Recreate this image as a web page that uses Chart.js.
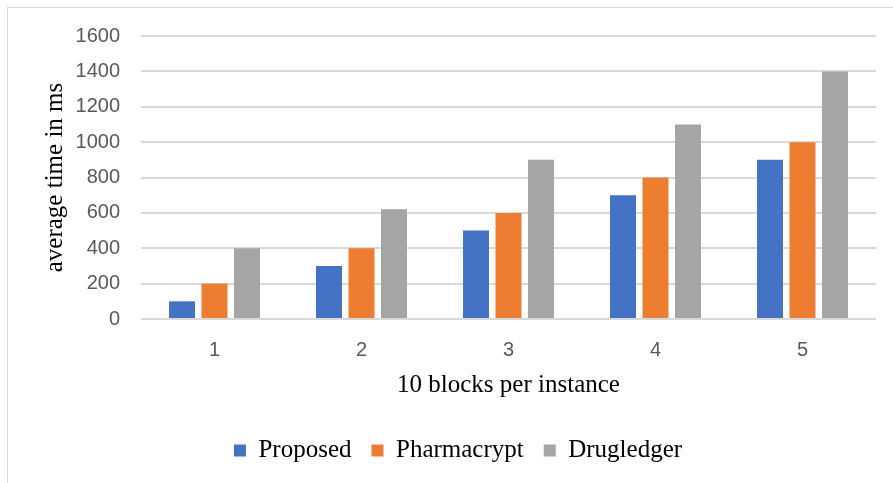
<!DOCTYPE html>
<html>
<head>
<meta charset="utf-8">
<script src="https://cdn.jsdelivr.net/npm/chart.js@4/dist/chart.umd.min.js"></script>
<style>
  html, body { margin: 0; padding: 0; background: #ffffff; overflow: hidden; }
  #wrap { position: relative; width: 893px; height: 483px; }
  #frame { position: absolute; left: 7px; top: 7px; width: 920px; height: 520px;
           border-left: 1px solid #d9d9d9; border-top: 1px solid #d9d9d9; pointer-events: none; }
  canvas { display: block; }
</style>
</head>
<body>
<div id="wrap">
  <canvas id="c" width="893" height="483"></canvas>
  <div id="frame"></div>
</div>
<script>
const categories = ['1', '2', '3', '4', '5'];
const seriesNames = ['Proposed', 'Pharmacrypt', 'Drugledger'];
const proposed = [100, 300, 500, 700, 900];
const pharmacrypt = [200, 400, 600, 800, 1000];
const drugledger = [400, 620, 900, 1100, 1400];
const colors = ['#4472C4', '#ED7D31', '#A5A5A5'];
const xTitle = '10 blocks per instance';
const yTitle = 'average time in ms';

const seriesValues = [proposed, pharmacrypt, drugledger];
const serif = '"Liberation Serif", "Times New Roman", serif';

// y-axis title drawn beside the y scale
const yTitlePlugin = {
  id: 'yTitlePlugin',
  afterDraw(chart) {
    const { ctx, chartArea } = chart;
    const yScale = chart.scales.y;
    ctx.save();
    ctx.translate(chartArea.left - 86, (yScale.top + yScale.bottom) / 2);
    ctx.rotate(-Math.PI / 2);
    ctx.font = '25px ' + serif;
    ctx.fillStyle = '#000000';
    ctx.textAlign = 'center';
    ctx.textBaseline = 'middle';
    ctx.fillText(yTitle, 0, 0);
    ctx.restore();
  }
};

new Chart(document.getElementById('c'), {
  type: 'bar',
  data: {
    labels: categories,
    datasets: seriesNames.map((name, i) => ({
      label: name,
      data: seriesValues[i],
      backgroundColor: colors[i],
      borderWidth: 0,
      categoryPercentage: 0.663,
      barPercentage: 0.8
    }))
  },
  plugins: [yTitlePlugin],
  options: {
    responsive: false,
    animation: false,
    devicePixelRatio: 1,
    layout: { padding: { top: 36, right: 17, bottom: 10, left: 40 } },
    plugins: {
      tooltip: { enabled: false },
      legend: {
        position: 'bottom',
        labels: {
          boxWidth: 12,
          boxHeight: 12,
          padding: 20,
          color: '#000000',
          font: { family: serif, size: 25 }
        }
      }
    },
    scales: {
      x: {
        grid: { display: false },
        border: { display: false },
        ticks: {
          color: '#595959',
          padding: 11,
          font: { family: '"Liberation Sans", Arial, sans-serif', size: 20 }
        },
        title: {
          display: true,
          text: xTitle,
          color: '#000000',
          padding: { top: 0, bottom: 18 },
          font: { family: serif, size: 25 }
        },
        afterFit(scale) { scale.height = 99; }
      },
      y: {
        min: 0,
        max: 1600,
        ticks: {
          stepSize: 200,
          color: '#595959',
          padding: 21,
          callback: (v) => String(v),
          font: { family: '"Liberation Sans", Arial, sans-serif', size: 20 }
        },
        grid: { color: '#d9d9d9', lineWidth: 2, drawTicks: false },
        border: { display: false },
        title: { display: false, text: yTitle },
        afterFit(scale) { scale.width = 101; }
      }
    }
  }
});
</script>
</body>
</html>
